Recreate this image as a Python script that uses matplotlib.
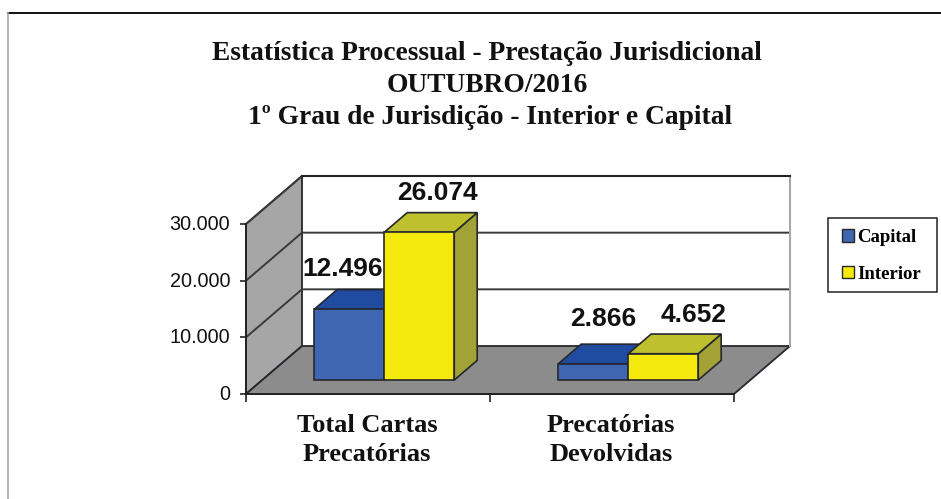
import matplotlib
matplotlib.use('Agg')
import matplotlib.pyplot as plt
from matplotlib.lines import Line2D
from matplotlib.patches import Patch, Polygon, Rectangle
from matplotlib.transforms import ScaledTranslation

title_lines = ['Estatística Processual - Prestação Jurisdicional', 'OUTUBRO/2016',
               '1º Grau de Jurisdição - Interior e Capital']
categories = ['Total Cartas\nPrecatórias', 'Precatórias\nDevolvidas']
series_names = ['Capital', 'Interior']
capital = [12496, 2866]
interior = [26074, 4652]
value_labels = [['12.496', '2.866'], ['26.074', '4.652']]
y_ticks = [0, 10000, 20000, 30000]
y_tick_labels = ['0', '10.000', '20.000', '30.000']

W, H = 941, 499
# front plane of the 3d box, in pixels
LEFT, RIGHT, BOTTOM, TOP = 246, 734, 394, 224
# how far the back wall is shifted from the front plane, in data units
DEPTH_X = 56 / (RIGHT - LEFT) * 2
DEPTH_Y = 48 / (BOTTOM - TOP) * 30000
BAR_W = 70 / (RIGHT - LEFT) * 2
D0, D1 = 0.29, 0.70  # bar front and back, as fraction of the depth

FACE = {'Capital': ('#3F66B0', '#1F4BA0', '#2B4A85'), 'Interior': ('#F5EA0D', '#BFC02E', '#A2A236')}
EDGE = '#26262e'
SERIF = 'Liberation Serif'
SANS = 'Liberation Sans'


def px(x, y):
    return x / W, 1 - y / H


def poly(ax, pts, color, edge=EDGE, lw=1.2, z=2):
    ax.add_patch(Polygon(pts, closed=True, facecolor=color, edgecolor=edge, linewidth=lw,
                         clip_on=False, zorder=z))


def draw_walls(ax):
    poly(ax, [(0, 0), (DEPTH_X, DEPTH_Y), (DEPTH_X, 30000 + DEPTH_Y), (0, 30000)], '#A6A6A6', lw=1.3, z=1)
    poly(ax, [(0, 0), (2, 0), (2 + DEPTH_X, DEPTH_Y), (DEPTH_X, DEPTH_Y)], '#8C8C8C', lw=1.3, z=1)
    for v in y_ticks[1:]:
        ax.plot([0, DEPTH_X, 2 + DEPTH_X], [v, v + DEPTH_Y, v + DEPTH_Y], color='#3a3a3a', lw=1.4,
                clip_on=False, zorder=1.5)
    ax.plot([2 + DEPTH_X, 2 + DEPTH_X], [DEPTH_Y, 30000 + DEPTH_Y], color='#a8a8a8', lw=1.5,
            clip_on=False, zorder=1.5)
    ax.plot([DEPTH_X, 2 + DEPTH_X], [30000 + DEPTH_Y, 30000 + DEPTH_Y], color='#222222', lw=1.5,
            clip_on=False, zorder=1.5)


def draw_bar(ax, center, value, name, z):
    front, top, side = FACE[name]
    dx0, dy0 = DEPTH_X * D0, DEPTH_Y * D0
    dx1, dy1 = DEPTH_X * D1, DEPTH_Y * D1
    x0 = center + dx0
    x1 = x0 + BAR_W
    xb = center + dx1 + BAR_W
    # side and top first, then the front face through ax.bar
    poly(ax, [(x1, dy0), (xb, dy1), (xb, dy1 + value), (x1, dy0 + value)], side, z=z)
    poly(ax, [(x0, dy0 + value), (x1, dy0 + value), (xb, dy1 + value),
              (x0 + dx1 - dx0, dy1 + value)], top, z=z)
    ax.bar(x0, value, width=BAR_W, bottom=dy0, align='edge', color=front, edgecolor=EDGE,
           linewidth=1.2, zorder=z + 0.1, clip_on=False)


def main():
    fig = plt.figure(figsize=(W / 100, H / 100), dpi=100)
    ax = fig.add_axes([LEFT / W, 1 - BOTTOM / H, (RIGHT - LEFT) / W, (BOTTOM - TOP) / H])
    ax.set_xlim(0, 2)
    ax.set_ylim(0, 30000)
    ax.patch.set_alpha(0)
    for s in ['top', 'right']:
        ax.spines[s].set_visible(False)
    for s in ['left', 'bottom']:
        ax.spines[s].set_linewidth(1.3)
        ax.spines[s].set_color('#222222')
        ax.spines[s].set_zorder(3)

    draw_walls(ax)

    ax.set_yticks(y_ticks)
    ax.set_yticklabels(y_tick_labels, fontfamily=SANS, fontsize=14.3, color='#111111')
    ax.tick_params(axis='y', length=4, width=1.2, pad=7.5, color='#222222')
    shift = ScaledTranslation(0, 1.5 / 100, fig.dpi_scale_trans)
    for label in ax.get_yticklabels():
        label.set_transform(label.get_transform() + shift)
    ax.set_xticks([0, 1, 2])
    ax.set_xticklabels([])
    ax.tick_params(axis='x', length=6, width=1.2, color='#222222')

    centers = [0.5 - BAR_W, 1.5 - BAR_W]
    for i, c in enumerate(centers):
        draw_bar(ax, c, capital[i], 'Capital', 4)
        draw_bar(ax, c + BAR_W, interior[i], 'Interior', 5)

    # value labels sit a bit differently on each bar in the original
    nudges = [[(-7, 40), (10, 45)], [(18, 39), (30, 39)]]
    for j, vals in enumerate([capital, interior]):
        for i, v in enumerate(vals):
            xc = centers[i] + j * BAR_W + DEPTH_X * D0 + BAR_W / 2
            ax.annotate(value_labels[j][i], (xc, DEPTH_Y * D0 + v), xytext=nudges[j][i],
                        textcoords='offset pixels', ha='center', va='center',
                        fontfamily=SANS, fontweight='bold', fontsize=19, color='#111111',
                        annotation_clip=False, zorder=8)

    for label, xp in zip(categories, [367, 611]):
        x, y = px(xp, 440)
        fig.text(x, y, label, ha='center', va='center', fontfamily=SERIF, fontweight='bold',
                 fontsize=19, color='#111111', linespacing=1.32)

    for line, xp, yp in zip(title_lines, [487, 487, 490], [53, 85, 118]):
        x, y = px(xp, yp)
        fig.text(x, y, line, ha='center', va='center', fontfamily=SERIF, fontweight='bold',
                 fontsize=19.8, color='#111111')

    # legend box is drawn apart, its height does not follow the entries
    fig.add_artist(Rectangle(px(828, 292), 109 / W, 74 / H, transform=fig.transFigure, facecolor='white',
                             edgecolor='#222222', linewidth=1.1))
    handles = [Patch(facecolor=FACE[n][0], edgecolor=EDGE, linewidth=1, label=n) for n in series_names]
    fig.legend(handles=handles, loc='upper left', bbox_to_anchor=px(828, 215), frameon=False,
               borderaxespad=0, handlelength=0.62, handleheight=0.62, handletextpad=0.2,
               labelspacing=1.05, borderpad=0.75,
               prop={'family': SERIF, 'weight': 'bold', 'size': 13.5})

    # outer chart border, only top and left are visible
    fig.add_artist(Line2D([8 / W, 1], [1 - 13 / H] * 2, color='#111111', lw=1.4))
    fig.add_artist(Line2D([8 / W, 8 / W], [1 - 13 / H, 0], color='#aaaaaa', lw=1.2))

    fig.savefig('out.png', dpi=100)


if __name__ == '__main__':
    main()
